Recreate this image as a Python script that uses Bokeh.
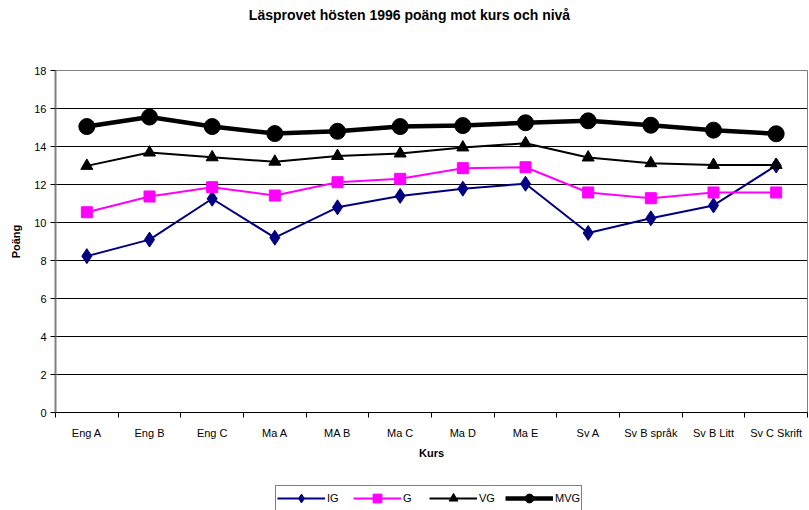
from bokeh.plotting import figure
from bokeh.layouts import column
from bokeh.models import FixedTicker, Range1d, Legend, LegendItem, Label
from bokeh.embed import file_html
from bokeh.resources import INLINE

# Courses on the x axis
kurser = ["Eng A", "Eng B", "Eng C", "Ma A", "MA B", "Ma C", "Ma D", "Ma E",
          "Sv A", "Sv B språk", "Sv B Litt", "Sv C Skrift"]

# Mean score per course and grade level
ig = [8.23, 9.1, 11.25, 9.2, 10.8, 11.4, 11.78, 12.04, 9.45, 10.22, 10.9, 13.0]
g = [10.54, 11.37, 11.86, 11.42, 12.12, 12.3, 12.86, 12.91, 11.58, 11.28, 11.58, 11.58]
vg = [12.98, 13.68, 13.43, 13.2, 13.5, 13.63, 13.95, 14.17, 13.42, 13.12, 13.03, 13.03]
mvg = [15.05, 15.55, 15.05, 14.68, 14.8, 15.05, 15.1, 15.25, 15.35, 15.12, 14.86, 14.67]

y_ticks = [0, 2, 4, 6, 8, 10, 12, 14, 16, 18]

TITLE = "Läsprovet hösten 1996 poäng mot kurs och nivå"
FONT = "Liberation Sans"

xs = [i + 0.5 for i in range(len(kurser))]

series = [
    ("IG", ig, "#000080", 2, "diamond", 15),
    ("G", g, "#FF00FF", 2, "square", 11),
    ("VG", vg, "black", 2, "triangle", 12),
    ("MVG", mvg, "black", 4.5, "circle", 16),
]


def strip(height, x_range, y_range):
    """A bare figure used only to hold a text or legend annotation."""
    f = figure(width=809, height=height, output_backend="svg",
               toolbar_location=None, x_range=x_range, y_range=y_range,
               min_border_left=55, min_border_right=2,
               min_border_top=0, min_border_bottom=0, title=None)
    f.axis.visible = False
    f.grid.visible = False
    f.outline_line_color = None
    return f


# Title strip: x in this strip's data units equals canvas pixels
top = strip(40, Range1d(55, 807), Range1d(0, 40))
top.add_layout(Label(x=409, y=26, text=TITLE, text_font=FONT,
                     text_font_size="14px", text_font_style="bold",
                     text_color="black", text_align="center",
                     text_baseline="middle"))

p = figure(width=809, height=432, output_backend="svg", toolbar_location=None,
           x_range=Range1d(0, len(kurser)), y_range=Range1d(0, 18),
           min_border_left=55, min_border_right=2, min_border_top=30,
           min_border_bottom=60, background_fill_color="white",
           border_fill_color="white", title=None)

p.outline_line_color = "#808080"
p.outline_line_width = 1

# x axis: labels centred on each course, ticks on the category boundaries
p.xaxis.ticker = FixedTicker(ticks=xs, minor_ticks=list(range(len(kurser) + 1)))
p.xaxis.major_label_overrides = {x: k for x, k in zip(xs, kurser)}
p.xaxis.major_tick_line_color = None
p.xaxis.minor_tick_in = 0
p.xaxis.minor_tick_out = 5
p.xaxis.minor_tick_line_color = "black"
p.xaxis.axis_line_color = "black"
p.xaxis.axis_label = "Kurs"
p.xaxis.axis_label_standoff = 5
p.xaxis.major_label_standoff = 8

p.yaxis.ticker = FixedTicker(ticks=y_ticks, minor_ticks=[])
p.yaxis.major_tick_in = 0
p.yaxis.major_tick_out = 5
p.yaxis.major_tick_line_color = "black"
p.yaxis.axis_line_color = "#808080"
p.yaxis.axis_line_width = 2
p.yaxis.axis_label = "Poäng"
p.yaxis.axis_label_standoff = 9
p.yaxis.major_label_standoff = 4

for ax in (p.xaxis, p.yaxis):
    ax.axis_label_text_font = FONT
    ax.axis_label_text_font_size = "11px"
    ax.axis_label_text_font_style = "bold"
    ax.axis_label_text_color = "black"
    ax.major_label_text_font = FONT
    ax.major_label_text_font_size = "11px"
    ax.major_label_text_color = "black"

p.xgrid.grid_line_color = None
p.ygrid.ticker = FixedTicker(ticks=y_ticks[1:-1])
p.ygrid.grid_line_color = "black"
p.ygrid.grid_line_width = 1

for name, vals, color, lw, marker, size in series:
    p.line(xs, vals, line_color=color, line_width=lw)
    p.scatter(xs, vals, marker=marker, size=size, fill_color=color,
              line_color=color)

# Legend strip under the chart: its series lie outside the strip's view
leg = strip(38, Range1d(100, 101), Range1d(100, 101))

items = []
for name, vals, color, lw, marker, size in series:
    ln = leg.line(xs, vals, line_color=color, line_width=lw)
    sc = leg.scatter(xs, vals, marker=marker, size=size, fill_color=color,
                     line_color=color)
    items.append(LegendItem(label=name, renderers=[ln, sc]))

legend = Legend(items=items, orientation="horizontal", location=(220, -1),
                glyph_width=48, glyph_height=22, label_standoff=2, spacing=6,
                padding=1, margin=0, border_line_color="black",
                label_text_font=FONT, label_text_font_size="11px",
                label_text_color="black")
leg.add_layout(legend)

open("out.html", "w").write(file_html(column(top, p, leg, spacing=0), INLINE))
